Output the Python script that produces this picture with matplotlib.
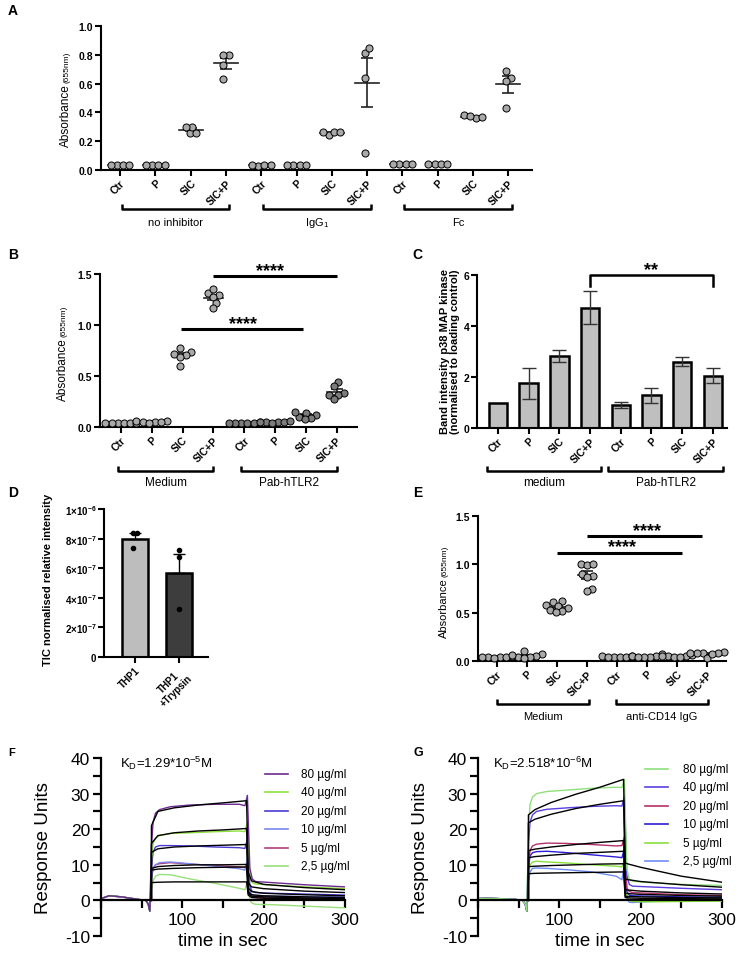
"""
Multi-panel figure: absorbance dot plots, p38 band intensity, TIC intensity and SPR sensorgrams.
"""

import numpy as np
import matplotlib

matplotlib.use("Agg")
import matplotlib.pyplot as plt
from matplotlib.ticker import MultipleLocator

plt.rcParams["font.family"] = ["Liberation Sans", "DejaVu Sans"]
plt.rcParams["mathtext.default"] = "regular"
plt.rcParams["axes.unicode_minus"] = False

# ---------------- data ----------------
CONDITIONS = ["Ctr", "P", "SIC", "SIC+P"]

# A: absorbance, 3 inhibitor groups x 4 conditions, 4 replicates
A_groups = ["no inhibitor", "IgG$_1$", "Fc"]
A_values = [
    [0.035, 0.035, 0.035, 0.035],
    [0.035, 0.035, 0.035, 0.035],
    [0.26, 0.30, 0.30, 0.26],
    [0.80, 0.80, 0.73, 0.635],
    [0.03, 0.035, 0.035, 0.035],
    [0.035, 0.035, 0.035, 0.035],
    [0.245, 0.265, 0.265, 0.265],
    [0.815, 0.85, 0.64, 0.12],
    [0.04, 0.04, 0.04, 0.04],
    [0.045, 0.045, 0.045, 0.045],
    [0.36, 0.38, 0.37, 0.375],
    [0.64, 0.69, 0.62, 0.43],
]

# B: absorbance, Medium vs Pab-hTLR2, 6 replicates
B_groups = ["Medium", "Pab-hTLR2"]
B_values = [
    [0.04, 0.04, 0.04, 0.04, 0.04, 0.04],
    [0.06, 0.05, 0.05, 0.04, 0.06, 0.05],
    [0.74, 0.77, 0.72, 0.71, 0.69, 0.60],
    [1.31, 1.35, 1.29, 1.27, 1.22, 1.17],
    [0.04, 0.04, 0.05, 0.04, 0.04, 0.04],
    [0.05, 0.05, 0.06, 0.05, 0.04, 0.05],
    [0.10, 0.12, 0.14, 0.15, 0.09, 0.08],
    [0.44, 0.40, 0.33, 0.31, 0.31, 0.27],
]

# C: band intensity p38 MAP kinase
C_groups = ["medium", "Pab-hTLR2"]
C_means = [1.0, 1.75, 2.82, 4.72, 0.9, 1.28, 2.6, 2.05]
C_err = [0.0, 0.62, 0.25, 0.65, 0.12, 0.28, 0.18, 0.30]

# D: TIC normalised relative intensity
D_labels = ["THP1", "THP1\n+Trypsin"]
D_means = [8.0e-7, 5.7e-7]
D_err = [0.4e-7, 1.25e-7]
D_points = [[8.4e-7, 8.4e-7, 7.35e-7], [7.2e-7, 6.75e-7, 3.25e-7]]

# E: absorbance, Medium vs anti-CD14 IgG
E_groups = ["Medium", "anti-CD14 IgG"]
E_values = [
    [0.05, 0.04, 0.04, 0.03, 0.04, 0.04],
    [0.10, 0.07, 0.05, 0.04, 0.04, 0.03, 0.06],
    [0.62, 0.61, 0.58, 0.57, 0.55, 0.53, 0.52, 0.51],
    [1.00, 0.99, 1.00, 0.90, 0.88, 0.87, 0.75, 0.72],
    [0.05, 0.04, 0.04, 0.04, 0.04, 0.05],
    [0.07, 0.05, 0.04, 0.04, 0.05, 0.04],
    [0.06, 0.05, 0.05, 0.04, 0.05, 0.04],
    [0.09, 0.08, 0.08, 0.08, 0.08, 0.03, 0.07],
]

# F/G: SPR sensorgrams (response units vs time)
SPR_conc = ["80 µg/ml", "40 µg/ml", "20 µg/ml", "10 µg/ml", "5 µg/ml", "2,5 µg/ml"]
T_base = [0, 10, 25, 45, 55, 58, 60]
T_meas = [62, 64, 67, 72, 85, 110, 140, 170, 177, 180, 183, 186, 190, 210, 250, 300]
T_fit = [62, 62, 70, 90, 120, 150, 179, 181, 185, 200, 250, 300]

F_base = [0.5, 1.3, 1.0, 0.3, 0.0, -1.0, -3.0]
F_meas = [
    [15, 22, 24.5, 25.5, 26.3, 26.8, 27.0, 27.0, 26.6, 29.5, 9, 6, 5.3, 5.0, 4.4, 3.8],
    [11, 16, 17.5, 18.2, 18.8, 19.0, 19.3, 19.5, 19.3, 22, 7, 5, 4.6, 4.3, 3.8, 3.3],
    [9, 13.5, 15, 15.4, 15.4, 15.3, 15.0, 14.8, 14.6, 17.3, 4, 2.5, 2.2, 2.0, 1.8, 1.5],
    [6, 9, 10, 10.6, 10.8, 10.3, 9.6, 8.9, 8.5, 11.7, 2.5, 1.5, 1.3, 1.2, 1.1, 1.0],
    [6, 9, 10, 10.3, 10.6, 10.2, 9.8, 9.4, 9.2, 10.6, 2, 1, 0.8, 0.7, 0.6, 0.5],
    [3, 5.5, 6.8, 7.3, 7.2, 6.0, 4.8, 3.4, 3.0, 5.4, 0, -0.8, -1.1, -1.2, -1.6, -2.1],
]
F_fit = [
    [0, 21, 25, 26, 26.8, 27.4, 28.0, 8, 5.5, 4.5, 3.6, 3.0],
    [0, 16, 18.2, 19, 19.5, 19.8, 20.2, 5, 3.8, 3.3, 2.6, 2.2],
    [0, 13.5, 14.5, 15, 15.3, 15.5, 15.7, 3.5, 2.5, 2.0, 1.6, 1.3],
    [0, 9, 9.5, 9.8, 10.0, 10.0, 10.1, 2.5, 1.6, 1.3, 1.0, 0.8],
    [0, 8.5, 8.8, 9.0, 9.2, 9.3, 9.4, 2, 1.2, 1.0, 0.7, 0.5],
    [0, 5.0, 5.1, 5.2, 5.2, 5.2, 5.2, 1.5, 0.8, 0.6, 0.4, 0.3],
]
F_kd = "K$_D$=1.29*10$^{-5}$M"

G_base = [0.5, 0.6, 0.5, 0.3, 0.0, -1.0, -3.0]
G_meas = [
    [20, 27, 29, 30, 30.6, 31, 31.5, 31.8, 31.7, 34, 9, 6, 5.4, 5.0, 4.5, 4.2],
    [16, 22, 24, 25, 25.6, 26.0, 26.4, 26.6, 26.5, 29.3, 7, 4.5, 4.0, 3.8, 3.4, 3.0],
    [10, 14, 15.3, 15.8, 16.1, 16.0, 15.7, 15.3, 15.4, 18, 3.5, 2.5, 2.2, 2.0, 1.6, 1.4],
    [9, 12.5, 13.4, 13.7, 13.8, 13.4, 12.8, 12.2, 12.0, 14.5, 2.5, 1.5, 1.3, 1.2, 1.0, 0.9],
    [7, 10, 10.8, 11.0, 10.8, 10.5, 10.0, 9.6, 9.4, 11.0, 1, 0, -0.3, -0.4, -0.3, -0.2],
    [5, 8, 9, 9.1, 9.0, 8.6, 8.0, 6.8, 5.8, 10, 0.5, -0.5, -0.6, -0.3, 0.0, 0.3],
]
G_fit = [
    [0, 24, 25.5, 27.5, 29.8, 31.8, 34.0, 10.5, 10.2, 9.3, 6.8, 5.1],
    [0, 21.8, 22.8, 24.2, 25.8, 27.0, 28.0, 6, 5.8, 5.3, 4.4, 3.7],
    [0, 14, 14.4, 15.0, 15.7, 16.3, 16.8, 3, 2.9, 2.6, 2.1, 1.8],
    [0, 12, 12.3, 12.7, 13.2, 13.5, 13.8, 2, 1.9, 1.7, 1.4, 1.2],
    [0, 9.5, 9.6, 9.8, 10.0, 10.2, 10.3, 1.2, 1.1, 1.0, 0.8, 0.7],
    [0, 7.5, 7.6, 7.7, 7.8, 7.9, 8.0, 0.8, 0.7, 0.6, 0.5, 0.4],
]
G_kd = "K$_D$=2.518*10$^{-6}$M"

# ---------------- styles ----------------
F_colors = ["#6b2a8e", "#8fe03c", "#4a3bd6", "#7a86f0", "#b13c78", "#98e07a"]
G_colors = ["#8ee07a", "#5b3ee0", "#b5306a", "#2c1ed8", "#86e03c", "#6f8cf5"]
DOT_LIGHT = "#a9a9a9"
DOT_DARK = "#7c7c7c"
TICK_SIZE = 7.5

W, H = 750, 954
fig = plt.figure(figsize=(W / 100, H / 100), dpi=100)


def axbox(l, t, r, b):
    return fig.add_axes([l / W, 1 - b / H, (r - l) / W, (b - t) / H])


def ftext(px, py, s, **kw):
    fig.text(px / W, 1 - py / H, s, **kw)


def style(ax, lw=1.5, size=TICK_SIZE):
    for s in ("top", "right"):
        ax.spines[s].set_visible(False)
    for s in ("left", "bottom"):
        ax.spines[s].set_linewidth(lw)
    ax.tick_params(width=lw, length=4, labelsize=size, pad=1.5)


def swarm(vals, sx, sy, d):
    """Horizontal offsets (data units) so that dots of diameter d px do not overlap."""
    y = np.asarray(vals, float) * sy
    px = np.zeros(len(y))
    done = []
    for k in np.argsort(y):
        cands = [0.0]
        for j in done:
            dy = y[k] - y[j]
            if abs(dy) < d:
                dx = np.sqrt(d * d - dy * dy)
                cands += [px[j] + dx, px[j] - dx]
        cands.sort(key=abs)
        for c in cands:
            if all((c - px[j]) ** 2 + (y[k] - y[j]) ** 2 >= d * d - 1e-6 for j in done):
                px[k] = c
                break
        done.append(k)
    px -= (px.max() + px.min()) / 2
    return px / sx


def dots(ax, values, sx, sy, colors, mean_w=0.32, d=6.2):
    for i, vals in enumerate(values):
        vals = np.asarray(vals)
        m = vals.mean()
        sem = vals.std(ddof=1) / np.sqrt(len(vals))
        ax.plot([i - mean_w, i + mean_w], [m, m], color="#222222", lw=1.2, zorder=2)
        ax.errorbar(i, m, yerr=sem, fmt="none", ecolor="#222222", elinewidth=1.2,
                    capsize=4, capthick=1.2, zorder=2)
        off = swarm(vals, sx, sy, d)
        ax.scatter(i + off, vals, s=26, facecolor=colors[i], edgecolor="black",
                   linewidth=0.7, zorder=3, clip_on=False)


def cat_ticks(ax, n, size=TICK_SIZE):
    ax.set_xticks(range(n), (CONDITIONS * 3)[:n], rotation=45, ha="right",
                  rotation_mode="anchor", fontweight="bold", fontsize=size)


def bracket(ax, x0, x1, y, ly, label, h, size=8):
    tr = ax.get_xaxis_transform()
    ax.plot([x0, x0, x1, x1], [y + h, y, y, y + h], transform=tr, color="black",
            lw=1.8, clip_on=False, solid_capstyle="butt")
    ax.text((x0 + x1) / 2, ly, label, transform=tr, ha="center", va="center",
            fontsize=size)


def stars(ax, xc, y, text):
    ax.annotate(text, (xc, y), xytext=(0, 1.0), textcoords="offset points",
                ha="center", va="baseline", fontsize=13, fontweight="bold")


def sig(ax, x0, x1, y, xc, text="****"):
    ax.plot([x0, x1], [y, y], color="black", lw=2.2, clip_on=False,
            solid_capstyle="butt")
    stars(ax, xc, y, text)


def yticks_bold(ax, ticks, fmt):
    ax.set_yticks(ticks, [fmt(t) for t in ticks], fontweight="bold")


# ---------------- A ----------------
axA = axbox(101, 27, 532, 171)
style(axA)
axA.set_xlim(-0.54, 11.67)
axA.set_ylim(0, 1.0)
dots(axA, A_values, 35.3, 144, [DOT_LIGHT] * 12, mean_w=0.34)
cat_ticks(axA, 12)
yticks_bold(axA, [0, 0.2, 0.4, 0.6, 0.8, 1.0], lambda t: f"{t:.1f}")
for g, name in enumerate(A_groups):
    bracket(axA, 4 * g + 0.05, 4 * g + 3.1, -0.27, -0.36, name, 0.035)
ftext(8, 11, "A", fontsize=10, fontweight="bold", va="center")
ftext(66, 84, "Absorbance", rotation=90, ha="center", va="top", fontsize=8.5)
ftext(67, 83, "(655nm)", rotation=90, ha="center", va="bottom", fontsize=6)

# ---------------- B ----------------
axB = axbox(100, 275, 357, 428)
style(axB)
axB.set_xlim(-0.68, 7.66)
axB.set_ylim(0, 1.5)
dots(axB, B_values, 30.8, 102, [DOT_LIGHT] * 4 + [DOT_DARK] * 4, mean_w=0.3)
cat_ticks(axB, 8)
yticks_bold(axB, [0, 0.5, 1.0, 1.5], lambda t: f"{t:.1f}")
sig(axB, 3.0, 7.0, 1.48, 4.85)
sig(axB, 1.95, 5.9, 0.96, 3.95)
for g, name in enumerate(B_groups):
    bracket(axB, 4 * g - 0.1, 4 * g + 3.0, -0.288, -0.36, name, 0.033, size=8.5)
ftext(8, 255, "B", fontsize=10, fontweight="bold", va="center")
ftext(63, 338, "Absorbance", rotation=90, ha="center", va="top", fontsize=8.5)
ftext(64, 337, "(655nm)", rotation=90, ha="center", va="bottom", fontsize=6)

# ---------------- C ----------------
axC = axbox(477, 276, 727, 429)
style(axC)
axC.set_xlim(-0.68, 7.46)
axC.set_ylim(0, 6)
xs = np.arange(len(C_means))
axC.bar(xs, C_means, width=0.6, color="#bfbfbf", edgecolor="black", linewidth=1.8,
        zorder=2)
axC.errorbar(xs[1:], C_means[1:], yerr=C_err[1:], fmt="none", ecolor="#333333",
             elinewidth=1.0, capsize=5, capthick=1.0, zorder=3)
cat_ticks(axC, 8)
yticks_bold(axC, [0, 2, 4, 6], lambda t: f"{t:d}")
axC.plot([3, 3, 7, 7], [5.55, 6.0, 6.0, 5.55], color="black", lw=1.8, clip_on=False)
stars(axC, 5, 6.0, "**")
bracket(axC, -0.36, 3.35, -0.28, -0.35, C_groups[0], 0.033, size=8.5)
bracket(axC, 3.6, 7.33, -0.28, -0.35, C_groups[1], 0.033, size=8.5)
ftext(412, 255, "C", fontsize=10, fontweight="bold", va="center")
ftext(450, 352, "Band intensity p38 MAP kinase\n(normalised to loading control)",
      rotation=90, ha="center", va="center", fontsize=8, fontweight="bold",
      linespacing=1.1)

# ---------------- D ----------------
axD = axbox(104, 510, 208, 658)
style(axD, size=7)
axD.set_xlim(-0.7, 1.66)
axD.set_ylim(0, 1e-6)
xd = np.arange(len(D_means))
axD.bar(xd, D_means, width=0.6, color=["#bdbdbd", "#3d3d3d"], edgecolor="black",
        linewidth=1.8, zorder=2)
axD.errorbar(xd, D_means, yerr=[[0, 0], D_err], fmt="none", ecolor="black",
             elinewidth=1.0, capsize=4, capthick=1.0, zorder=3)
for i, pts in enumerate(D_points):
    off = swarm(pts, 44, 148e6, 4.0)
    axD.scatter(i + off, pts, s=9, color="black", zorder=4)
axD.set_xticks(xd, D_labels, rotation=45, ha="right", rotation_mode="anchor",
               fontweight="bold", fontsize=7, multialignment="center")
d_ticks = [0, 2e-7, 4e-7, 6e-7, 8e-7, 1e-6]
d_lab = ["0", "2×10$^{-7}$", "4×10$^{-7}$", "6×10$^{-7}$", "8×10$^{-7}$", "1×10$^{-6}$"]
axD.set_yticks(d_ticks, d_lab, fontweight="bold")
ftext(8, 493, "D", fontsize=10, fontweight="bold", va="center")
ftext(48, 580, "TIC normalised relative intensity", rotation=90, ha="center",
      va="center", fontsize=8, fontweight="bold")

# ---------------- E ----------------
axE = axbox(478, 517, 726, 662)
style(axE)
axE.set_xlim(-0.63, 7.63)
axE.set_ylim(0, 1.5)
dots(axE, E_values, 30, 97, [DOT_LIGHT] * 8, mean_w=0.3)
cat_ticks(axE, 8)
yticks_bold(axE, [0, 0.5, 1.0, 1.5], lambda t: f"{t:.1f}")
sig(axE, 3.0, 6.83, 1.29, 5.0)
sig(axE, 2.0, 6.17, 1.12, 4.17)
bracket(axE, 0.0, 3.07, -0.297, -0.38, E_groups[0], 0.035)
bracket(axE, 3.97, 7.03, -0.297, -0.38, E_groups[1], 0.035)
ftext(413, 493, "E", fontsize=10, fontweight="bold", va="center")
ftext(444, 578, "Absorbance", rotation=90, ha="center", va="top", fontsize=8)
ftext(445, 577, "(655nm)", rotation=90, ha="center", va="bottom", fontsize=6)


# ---------------- F / G ----------------
def spr(ax, base, meas, fits, colors, kd, kd_x, leg_x0, leg_x1, leg_tx, leg_y0):
    for s in ("top", "right"):
        ax.spines[s].set_visible(False)
    for s in ("left", "bottom"):
        ax.spines[s].set_linewidth(1.6)
    ax.spines["bottom"].set_position(("data", 0))
    ax.set_xlim(0, 300)
    ax.set_ylim(-10, 40)
    ax.set_xticks([100, 200, 300])
    ax.set_yticks([-10, 0, 10, 20, 30, 40])
    ax.xaxis.set_minor_locator(MultipleLocator(50))
    ax.yaxis.set_minor_locator(MultipleLocator(5))
    ax.tick_params(which="major", width=1.6, length=6, labelsize=12.5, pad=2)
    ax.tick_params(which="minor", width=1.6, length=6)
    for vals, c in list(zip(meas, colors))[::-1]:
        ax.plot(T_base + T_meas, base + vals, color=c, lw=1.0, zorder=2)
    for vals in fits:
        ax.plot(T_fit, vals, color="black", lw=1.0, zorder=3)
    ax.set_ylabel("Response Units", fontsize=13.5)
    ax.yaxis.set_label_coords(-0.2, 0.5)
    ax.set_xlabel("time in sec", fontsize=13.5)
    ax.xaxis.set_label_coords(0.5, 0.02)
    ax.text(kd_x, 0.978, kd, transform=ax.transAxes, fontsize=9.5, va="center")
    for k, (c, lab) in enumerate(zip(colors, SPR_conc)):
        y = leg_y0 - k * 0.1034
        ax.plot([leg_x0, leg_x1], [y, y], color=c, lw=1.2, transform=ax.transAxes,
                clip_on=False)
        ax.text(leg_tx, y, lab, transform=ax.transAxes, fontsize=8.5, va="center")


axF = axbox(101, 759, 345, 937)
spr(axF, F_base, F_meas, F_fit, F_colors, F_kd, 0.078, 0.672, 0.766, 0.82, 0.91)
ftext(8, 753, "F", fontsize=8, fontweight="bold", va="center")

axG = axbox(478, 759, 722, 937)
spr(axG, G_base, G_meas, G_fit, G_colors, G_kd, 0.061, 0.684, 0.779, 0.84, 0.938)
ftext(413, 753, "G", fontsize=9, fontweight="bold", va="center")

fig.savefig("out.png", dpi=100)
